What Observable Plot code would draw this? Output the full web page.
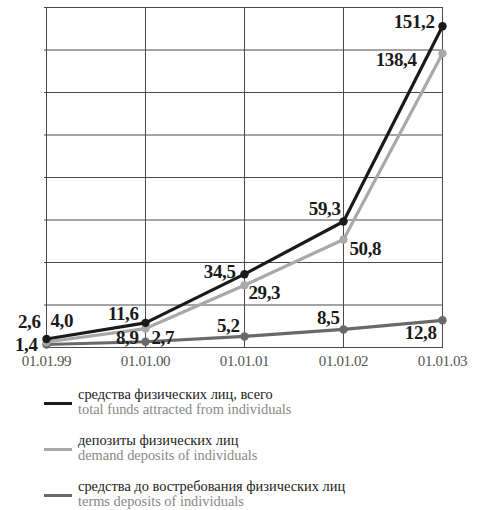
<!DOCTYPE html>
<html><head><meta charset="utf-8">
<script src="https://cdn.jsdelivr.net/npm/d3@7"></script>
<script src="https://cdn.jsdelivr.net/npm/@observablehq/plot@0.6"></script>
<style>
body{margin:0;background:#fff;}
#chart svg{display:block;}
.legend{font-family:"Liberation Serif","Times New Roman",serif;font-size:14.4px;line-height:14px;}
.item{position:absolute;left:44px;}
.sw{position:absolute;left:0;width:28px;height:3px;}
.txt{position:absolute;left:34px;white-space:nowrap;}
.ru{color:#222;}
.en{color:#888;}
</style></head>
<body>
<div id="chart"></div>
<div class="legend" id="legend"></div>
<script>
const dates = ["01.01.99","01.01.00","01.01.01","01.01.02","01.01.03"];
const total = [4.0, 11.6, 34.5, 59.3, 151.2];
const deposits = [2.6, 8.9, 29.3, 50.8, 138.4];
const demand = [1.4, 2.7, 5.2, 8.5, 12.8];
const seriesNamesRu = ["средства физических лиц, всего","депозиты физических лиц","средства до востребования физических лиц"];
const seriesNamesEn = ["total funds attracted from individuals","demand deposits of individuals","terms deposits of individuals"];
const yTicks = [0,20,40,60,80,100,120,140,160];

const colors = ["#1a1a1a","#a9a9a9","#696969"];
const seriesValues = [total, deposits, demand];
// label placement: [textAnchor, dx, dy] per series per point
const placement = [
  [["start",4,-18],["end",-7,-9],["end",-9,-2],["end",-3,-13],["end",-8,-4]],
  [["end",-6,-20],["end",-7,9],["start",4,8],["start",6,9],["end",-26,7]],
  [["end",-9,0],["start",6,-4],["end",-5,-11],["end",-4,-12],["end",-6,13]]
];
const data = [];
seriesValues.forEach((vals, s) => vals.forEach((v, i) => data.push({s, date: dates[i], v, a: placement[s][i][0], dx: placement[s][i][1], dy: placement[s][i][2]})));
const fmt = v => d3.format(".1f")(v).replace(".", ",");
const serif = "Liberation Serif, Times New Roman, serif";

const marks = [
  Plot.ruleY(yTicks, {stroke:"#4a4a4a", strokeWidth:1, strokeOpacity:1}),
  Plot.ruleX(dates, {stroke:"#4a4a4a", strokeWidth:1, strokeOpacity:1}),
];
[2,1,0].forEach(s => {
  const d = data.filter(r => r.s === s);
  marks.push(Plot.line(d, {x:"date", y:"v", stroke: colors[s], strokeWidth:3.2}));
  marks.push(Plot.dot(d, {x:"date", y:"v", fill: colors[s], r:4.2}));
});
data.forEach(r => {
  marks.push(Plot.text([r], {x:"date", y:"v", text: r => fmt(r.v), textAnchor: r.a, dx: r.dx, dy: r.dy,
    fill:"#1a1a1a", fontWeight:"bold", fontSize:19, fontFamily: serif}));
});
marks.push(Plot.axisX({tickSize:0, tickPadding:8, fontSize:15, fill:"#555", fontFamily: serif, label:null}));

const chart = Plot.plot({
  width: 481, height: 375,
  marginLeft: 44, marginRight: 38, marginTop: 7, marginBottom: 28,
  x: {type:"point", domain: dates, padding: 0},
  y: {domain:[0,160], axis:null},
  style: {fontFamily: serif, background:"#fff"},
  marks
});
chart.querySelectorAll("text").forEach(t => t.style.letterSpacing = "-0.4px");
document.getElementById("chart").appendChild(chart);

const legend = document.getElementById("legend");
const tops = [387, 433, 479];
seriesNamesRu.forEach((name, s) => {
  const item = document.createElement("div");
  item.className = "item";
  item.style.top = tops[s] + "px";
  item.innerHTML = `<div class="sw" style="top:15px;background:${colors[s]}"></div>
    <div class="txt ru" style="top:0">${name}</div>
    <div class="txt en" style="top:15px">${seriesNamesEn[s]}</div>`;
  legend.appendChild(item);
});
</script>
</body></html>
